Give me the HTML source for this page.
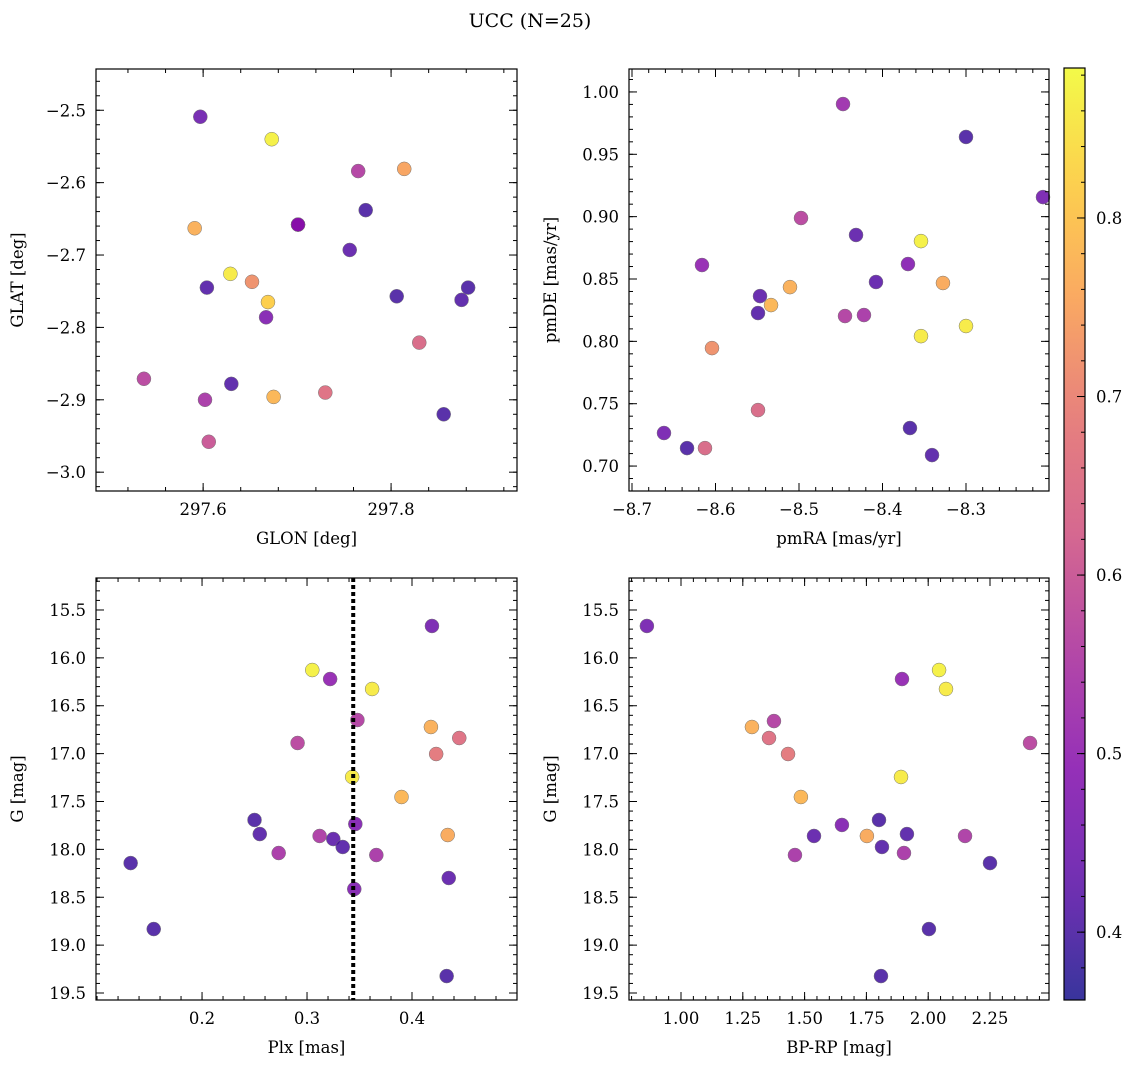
<!DOCTYPE html>
<html><head><meta charset="utf-8">
<style>
body{margin:0;background:#fff;}
svg{display:block;font-family:"DejaVu Serif","Liberation Serif",serif;}
</style></head>
<body>
<svg id="fig" width="1136" height="1068" viewBox="0 0 1136 1068">
<text x="530" y="27" font-size="19" text-anchor="middle">UCC (N=25)</text>
</svg>
<script>
// Panel 1: GLON vs GLAT
const p1Glon=[297.597,297.673,297.765,297.814,297.773,297.701,297.591,297.756,297.629,297.652,297.604,297.669,297.806,297.882,297.875,297.667,297.830,297.537,297.630,297.730,297.675,297.602,297.856,297.606,297.701];
const p1Glat=[-2.509,-2.540,-2.584,-2.581,-2.638,-2.658,-2.663,-2.693,-2.726,-2.737,-2.745,-2.765,-2.757,-2.745,-2.762,-2.786,-2.821,-2.871,-2.878,-2.890,-2.896,-2.900,-2.920,-2.958,-2.658];
const p1Prob=[0.44,0.87,0.56,0.75,0.40,0.50,0.77,0.42,0.86,0.72,0.41,0.82,0.40,0.40,0.41,0.47,0.64,0.57,0.41,0.66,0.78,0.54,0.40,0.60,0.50];
// Panel 2: pmRA vs pmDE
const p2Pmra=[-8.4473,-8.3000,-8.2078,-8.4976,-8.4317,-8.3539,-8.6162,-8.3695,-8.4078,-8.3276,-8.5108,-8.5467,-8.5335,-8.5491,-8.4222,-8.4449,-8.3000,-8.3539,-8.6042,-8.5491,-8.6617,-8.3671,-8.6341,-8.6126,-8.3407];
const p2Pmde=[0.9903,0.9639,0.9157,0.8989,0.8853,0.8804,0.8612,0.8620,0.8476,0.8468,0.8435,0.8363,0.8291,0.8227,0.8211,0.8203,0.8123,0.8042,0.7946,0.7449,0.7265,0.7305,0.7144,0.7144,0.7088];
const p2Prob=[0.52,0.40,0.45,0.57,0.42,0.87,0.50,0.48,0.42,0.76,0.77,0.42,0.78,0.41,0.54,0.56,0.86,0.86,0.72,0.64,0.45,0.40,0.40,0.64,0.41];
// Panel 3: Plx vs G
const p3Plx=[0.419,0.305,0.322,0.362,0.348,0.445,0.418,0.291,0.423,0.343,0.390,0.250,0.255,0.312,0.325,0.346,0.334,0.434,0.273,0.366,0.132,0.435,0.345,0.154,0.433];
const p3G=[15.667,16.127,16.221,16.325,16.649,16.837,16.722,16.889,17.004,17.244,17.453,17.693,17.840,17.860,17.892,17.735,17.975,17.850,18.038,18.059,18.143,18.299,18.414,18.832,19.323];
const p3Prob=[0.45,0.87,0.50,0.86,0.56,0.66,0.77,0.57,0.68,0.86,0.78,0.40,0.41,0.55,0.42,0.47,0.41,0.76,0.54,0.54,0.40,0.42,0.47,0.40,0.40];
const plxLine=0.344;
// Panel 4: BP-RP vs G
const p4Bprp=[0.862,2.044,1.894,2.072,1.287,1.376,1.356,2.412,1.433,1.890,1.485,1.801,1.538,1.651,1.752,1.914,2.149,1.813,1.461,1.902,2.250,2.003,1.809];
const p4G=[15.667,16.127,16.221,16.325,16.722,16.660,16.837,16.889,17.004,17.244,17.453,17.693,17.860,17.745,17.860,17.840,17.860,17.975,18.059,18.038,18.143,18.832,19.323];
const p4Prob=[0.45,0.87,0.50,0.86,0.77,0.56,0.66,0.57,0.68,0.86,0.78,0.40,0.42,0.47,0.76,0.41,0.55,0.41,0.54,0.54,0.40,0.40,0.40];
// tick labels
const t1x=[297.6,297.8], t1xl=["297.6","297.8"];
const t1y=[-2.5,-2.6,-2.7,-2.8,-2.9,-3.0], t1yl=["\u22122.5","\u22122.6","\u22122.7","\u22122.8","\u22122.9","\u22123.0"];
const t2x=[-8.7,-8.6,-8.5,-8.4,-8.3], t2xl=["\u22128.7","\u22128.6","\u22128.5","\u22128.4","\u22128.3"];
const t2y=[1.0,0.95,0.9,0.85,0.8,0.75,0.7], t2yl=["1.00","0.95","0.90","0.85","0.80","0.75","0.70"];
const t3x=[0.2,0.3,0.4], t3xl=["0.2","0.3","0.4"];
const tGy=[15.5,16,16.5,17,17.5,18,18.5,19,19.5], tGyl=["15.5","16.0","16.5","17.0","17.5","18.0","18.5","19.0","19.5"];
const t4x=[1.0,1.25,1.5,1.75,2.0,2.25], t4xl=["1.00","1.25","1.50","1.75","2.00","2.25"];
const tcb=[0.4,0.5,0.6,0.7,0.8], tcbl=["0.4","0.5","0.6","0.7","0.8"];
const cMin=0.362, cMax=0.884;

const NS="http://www.w3.org/2000/svg";
const svg=document.getElementById('fig');
const FS=16.5;
function mk(tag,attrs,parent){const e=document.createElementNS(NS,tag);for(const k in attrs)e.setAttribute(k,attrs[k]);(parent||svg).appendChild(e);return e;}
const plasma=[[13,8,135],[84,2,163],[126,3,168],[164,32,148],[204,71,120],[225,100,98],[248,149,64],[253,196,39],[240,249,33]];
function cmap(v){let t=(v-cMin)/(cMax-cMin);t=Math.max(0,Math.min(1,t));const f=t*(plasma.length-1);const i=Math.min(plasma.length-2,Math.floor(f));const r=f-i;const a=plasma[i],b=plasma[i+1];return `rgb(${Math.round(a[0]+(b[0]-a[0])*r)},${Math.round(a[1]+(b[1]-a[1])*r)},${Math.round(a[2]+(b[2]-a[2])*r)})`;}

function panel(name,box,xr,yr,xt,xtl,yt,ytl,xlab,ylab,xs,ys,cs){
  const [L,T,R,B]=box;
  const X=v=>L+(v-xr[0])/(xr[1]-xr[0])*(R-L);
  const Y=v=>T+(yr[1]-v)/(yr[1]-yr[0])*(B-T);
  const g=mk('g',{});
  
  
  for(let i=0;i<xs.length;i++){
    const c=mk('circle',{cx:X(xs[i]),cy:Y(ys[i]),r:7,fill:cmap(cs[i]),'fill-opacity':0.82,stroke:'#777','stroke-width':0.5},g);
    
    
  }
  const stepX=xt[1]-xt[0], stepY=yt[1]-yt[0];
  function minors(ticks,step,lo,hi){const out=[];const st=Math.abs(step)/5;const s=Math.min(ticks[0],ticks[ticks.length-1])-Math.abs(step)*2;const e=Math.max(ticks[0],ticks[ticks.length-1])+Math.abs(step)*2;for(let v=s;v<=e+1e-9;v+=st){if(v>=Math.min(lo,hi)&&v<=Math.max(lo,hi))out.push(v);}return out;}
  const tk={stroke:'#000','stroke-width':1};
  const mnX=minors(xt,stepX,xr[0],xr[1]), mnY=minors(yt,stepY,yr[0],yr[1]);
  for(const v of mnX){const x=X(v);mk('line',Object.assign({x1:x,x2:x,y1:B,y2:B-4},tk),g);mk('line',Object.assign({x1:x,x2:x,y1:T,y2:T+4},tk),g);}
  for(const v of mnY){const y=Y(v);mk('line',Object.assign({x1:L,x2:L+4,y1:y,y2:y},tk),g);mk('line',Object.assign({x1:R,x2:R-4,y1:y,y2:y},tk),g);}
  xt.forEach((v,i)=>{const x=X(v);mk('line',Object.assign({x1:x,x2:x,y1:B,y2:B-8},tk),g);mk('line',Object.assign({x1:x,x2:x,y1:T,y2:T+8},tk),g);
    const t=mk('text',{x:x,y:B+24,'font-size':FS,'text-anchor':'middle'},g);t.textContent=xtl[i];
    
    });
  yt.forEach((v,i)=>{const y=Y(v);mk('line',Object.assign({x1:L,x2:L+8,y1:y,y2:y},tk),g);mk('line',Object.assign({x1:R,x2:R-8,y1:y,y2:y},tk),g);
    const t=mk('text',{x:L-10,y:y+6,'font-size':FS,'text-anchor':'end'},g);t.textContent=ytl[i];
    
    });
  mk('rect',{x:L,y:T,width:R-L,height:B-T,fill:'none',stroke:'#000','stroke-width':1.2},g);
  const xl=mk('text',{x:(L+R)/2,y:B+53,'font-size':FS,'text-anchor':'middle'},g);xl.textContent=xlab;
  
  
  const yl=mk('text',{x:0,y:0,'font-size':FS,'text-anchor':'middle',transform:`translate(${L-73},${(T+B)/2}) rotate(-90)`},g);yl.textContent=ylab;
  
  
  return {X,Y,g};
}
panel('glon-glat',[96,69,517,491],[297.486,297.934],[-3.026,-2.443],t1x,t1xl,t1y,t1yl,'GLON [deg]','GLAT [deg]',p1Glon,p1Glat,p1Prob);
panel('pm',[629,69,1049,491],[-8.7036,-8.2006],[0.68,1.0184],t2x,t2xl,t2y,t2yl,'pmRA [mas/yr]','pmDE [mas/yr]',p2Pmra,p2Pmde,p2Prob);
const gTop=15.166, gBot=19.573;
function panelG(name,box,xr,xt,xtl,xlab,xs,gs,cs,line){
  const p=panel(name,box,xr,[-gBot,-gTop],xt,xtl,tGy.map(v=>-v),tGyl,xlab,'G [mag]',xs,gs.map(v=>-v),cs);
  if(line!==undefined){const x=p.X(line);const l=mk('line',{x1:x,x2:x,y1:box[1],y2:box[3],stroke:'#000','stroke-width':4,'stroke-dasharray':'4 3'},p.g);
    
    }
}
panelG('plx-g',[96,578,517,1000],[0.099,0.5],t3x,t3xl,'Plx [mas]',p3Plx,p3G,p3Prob,plxLine);
panelG('color-g',[629,578,1049,1000],[0.7896,2.4887],t4x,t4xl,'BP-RP [mag]',p4Bprp,p4G,p4Prob);
(function(){
  const L=1064,R=1085,T=68,B=1000;
  const g=mk('g',{});
  
  
  const defs=mk('defs',{},g);
  const lg=mk('linearGradient',{id:'cg',x1:0,y1:1,x2:0,y2:0},defs);
  for(let i=0;i<=20;i++){const v=cMin+(cMax-cMin)*i/20;mk('stop',{offset:i/20,'stop-color':cmap(v),'stop-opacity':0.82},lg);}
  mk('rect',{x:L,y:T,width:R-L,height:B-T,fill:'url(#cg)'},g);
  const Y=v=>B-(v-cMin)/(cMax-cMin)*(B-T);
  for(let v=0.38;v<cMax;v+=0.02){const y=Y(v);mk('line',{x1:R,x2:R-4,y1:y,y2:y,stroke:'#000','stroke-width':1},g);}
  tcb.forEach((v,i)=>{const y=Y(v);mk('line',{x1:R,x2:R-8,y1:y,y2:y,stroke:'#000','stroke-width':1},g);
    const t=mk('text',{x:R+11,y:y+6,'font-size':FS},g);t.textContent=tcbl[i];
    
    });
  mk('rect',{x:L,y:T,width:R-L,height:B-T,fill:'none',stroke:'#000','stroke-width':1.2},g);
})();
</script>
</body></html>
